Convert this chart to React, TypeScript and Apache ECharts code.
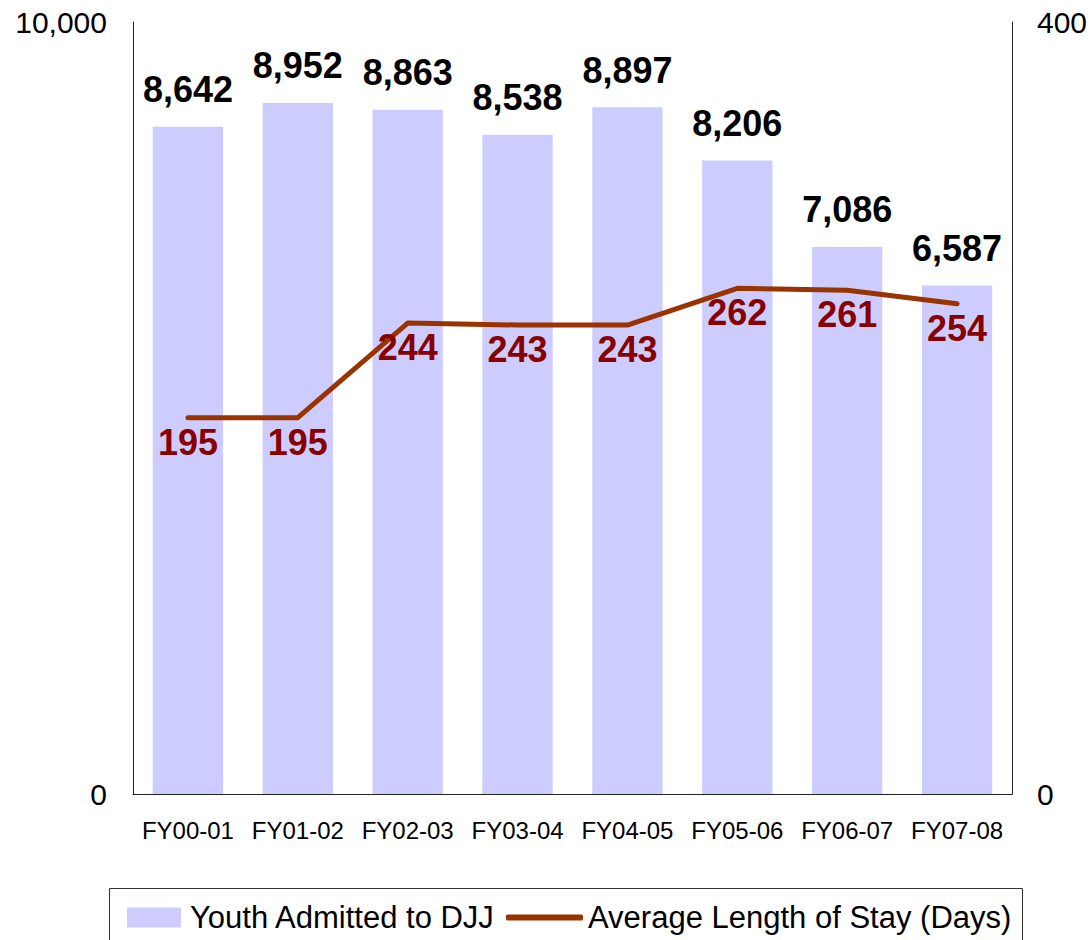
import React, { useEffect, useRef } from "react";
import * as echarts from "echarts";

const categories = ["FY00-01", "FY01-02", "FY02-03", "FY03-04", "FY04-05", "FY05-06", "FY06-07", "FY07-08"];
const youthAdmitted = [8642, 8952, 8863, 8538, 8897, 8206, 7086, 6587];
const avgLengthOfStay = [195, 195, 244, 243, 243, 262, 261, 254];
const leftAxisMax = 10000;
const rightAxisMax = 400;

const FONT = '"Liberation Sans", Arial, sans-serif';

export default function App() {
  const ref = useRef<HTMLDivElement>(null);

  useEffect(() => {
    if (!ref.current) return;
    const chart = echarts.init(ref.current, undefined, { renderer: "svg" });
    chart.setOption({
      animation: false,
      backgroundColor: "#ffffff",
      textStyle: { fontFamily: FONT },
      grid: { left: 133, right: 79, top: 22, bottom: 146, containLabel: false },
      legend: [
        {
          data: [{ name: "Youth Admitted to DJJ", icon: "rect" }],
          left: 127,
          top: 902,
          padding: 0,
          itemWidth: 54,
          itemHeight: 20,
          textStyle: { fontSize: 31, color: "#000", fontFamily: FONT, padding: [0, 0, 0, 4] },
        },
        {
          data: [{ name: "Average Length of Stay (Days)", icon: "roundRect" }],
          left: 506,
          top: 902,
          padding: 0,
          itemWidth: 77,
          itemHeight: 6,
          textStyle: { fontSize: 31, color: "#000", fontFamily: FONT },
        },
      ],
      graphic: [
        {
          type: "rect",
          left: 107,
          top: 886,
          shape: { width: 913, height: 80 },
          style: { fill: "none", stroke: "#333", lineWidth: 1 },
          silent: true,
        },
      ],
      xAxis: {
        type: "category",
        data: categories,
        axisLine: { show: true, lineStyle: { color: "#222", width: 1 } },
        axisTick: { show: false },
        axisLabel: { fontSize: 24, color: "#000", margin: 24, fontFamily: FONT, interval: 0 },
      },
      yAxis: [
        {
          type: "value",
          min: 0,
          max: leftAxisMax,
          interval: leftAxisMax,
          axisLine: { show: true, lineStyle: { color: "#222", width: 1 } },
          axisTick: { show: false },
          splitLine: { show: false },
          axisLabel: {
            fontSize: 30,
            color: "#000",
            margin: 26,
            fontFamily: FONT,
            formatter: (v: number) => v.toLocaleString("en-US"),
          },
        },
        {
          type: "value",
          min: 0,
          max: rightAxisMax,
          interval: rightAxisMax,
          position: "right",
          axisLine: { show: true, lineStyle: { color: "#222", width: 1 } },
          axisTick: { show: false },
          splitLine: { show: false },
          axisLabel: { fontSize: 30, color: "#000", margin: 25, fontFamily: FONT },
        },
      ],
      series: [
        {
          name: "Youth Admitted to DJJ",
          type: "bar",
          data: youthAdmitted,
          barWidth: "64%",
          itemStyle: { color: "#CCCCFF" },
          label: {
            show: true,
            position: "top",
            distance: 19,
            fontSize: 36,
            fontWeight: "bold",
            color: "#000",
            fontFamily: FONT,
            formatter: (p: any) => Number(p.value).toLocaleString("en-US"),
          },
          z: 2,
        },
        {
          name: "Average Length of Stay (Days)",
          type: "line",
          yAxisIndex: 1,
          data: avgLengthOfStay,
          symbol: "circle",
          symbolSize: 1,
          itemStyle: { color: "#993300" },
          lineStyle: { color: "#993300", width: 5, cap: "round", join: "round" },
          label: {
            show: true,
            position: "bottom",
            distance: 6,
            fontSize: 36,
            fontWeight: "bold",
            color: "#880000",
            fontFamily: FONT,
          },
          z: 3,
        },
      ],
    });
    return () => chart.dispose();
  }, []);

  return (
    <div
      ref={ref}
      style={{ position: "fixed", left: 0, top: 0, width: 1091, height: 940, background: "#fff" }}
    />
  );
}
